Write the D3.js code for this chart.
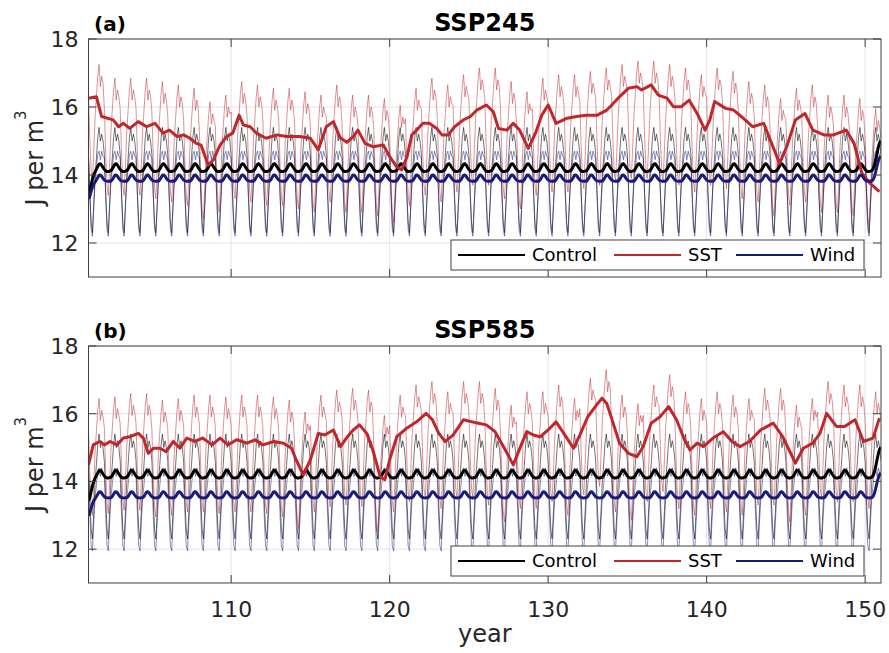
<!DOCTYPE html>
<html>
<head>
<meta charset="utf-8">
<script src="https://cdn.jsdelivr.net/npm/d3@7/dist/d3.min.js"></script>
<style>
    body { margin: 0; background: #fff; }
    svg { display: block; font-family: 'DejaVu Sans', sans-serif; }
</style>
</head>
<body>
<div id="chart"></div>
<script>
'use strict';

// seasonal cycle (one value per month, starting at the year mark)
var controlClim = [14.6, 13.5, 12.6, 12.3, 13.1, 14.0, 14.5, 15.1, 15.4, 15.0, 15.2, 15.0];
var windClimA = [14.5, 13.4, 12.4, 12.2, 13.1, 13.8, 14.2, 14.6, 14.7, 14.45, 14.7, 14.55];
var windClimB = [14.15, 13.05, 12.1, 11.95, 12.8, 13.5, 13.9, 14.3, 14.4, 14.15, 14.4, 14.25];
var sstAnom = [0.45, -0.85, -1.8, -2.1, -1.2, -0.2, 0.4, 1.0, 1.35, 0.7, 1.0, 0.8];

// yearly level of the thin SST run, years 101..150
var sstLevelA = [15.9, 15.5, 15.5, 15.5, 15.4, 15.3, 15.2, 14.8, 15.0, 15.4,
    15.3, 15.2, 15.2, 15.1, 15.0, 15.3, 15.0, 15.0, 14.9, 14.7,
    15.2, 15.5, 15.3, 15.6, 15.8, 15.8, 15.4, 15.1, 15.5, 15.6,
    15.6, 15.7, 15.8, 15.9, 16.0, 16.0, 15.9, 15.8, 15.6, 15.8,
    15.7, 15.4, 15.3, 14.9, 15.2, 15.3, 15.0, 15.0, 14.9, 14.6];
var sstLevelB = [15.1, 15.15, 15.25, 15.25, 15.05, 15.1, 15.2, 15.2, 15.15, 15.2,
    15.2, 15.15, 15.05, 14.7, 15.2, 15.35, 15.4, 15.35, 14.6, 15.2,
    15.5, 15.6, 15.3, 15.6, 15.6, 15.4, 14.9, 15.3, 15.3, 15.5,
    15.1, 15.7, 15.95, 15.2, 14.95, 15.5, 15.8, 15.3, 15.1, 15.3,
    15.2, 15.1, 15.4, 15.4, 14.9, 15.1, 15.6, 15.5, 15.5, 15.3];

// smoothed SST curve (thick line), year / value
var sstMeanYearsA = [101.0, 101.5, 101.83, 102.56, 102.9, 103.2, 103.6, 104.14, 104.67, 105.2,
    105.7, 106.1, 106.6, 107.0, 107.4, 107.8, 108.1, 108.55, 108.87, 109.3,
    109.7, 110.1, 110.5, 110.77, 111.2, 111.6, 112.2, 112.9, 113.5, 114.3,
    115.0, 115.5, 116.0, 116.45, 116.87, 117.3, 117.7, 118.0, 118.45, 118.97,
    119.6, 120.0, 120.45, 120.76, 121.1, 121.4, 121.7, 122.1, 122.5, 122.97,
    123.3, 123.7, 124.1, 124.65, 125.1, 125.5, 126.1, 126.54, 126.86, 127.4,
    127.8, 128.2, 128.75, 129.2, 129.6, 130.0, 130.5, 131.2, 131.8, 132.4,
    133.1, 133.7, 134.0, 134.5, 135.06, 135.6, 135.9, 136.5, 136.95, 137.5,
    137.9, 138.4, 138.9, 139.4, 139.9, 140.2, 140.5, 141.2, 141.7, 142.3,
    142.9, 143.6, 144.1, 144.6, 145.05, 145.6, 146.2, 146.7, 147.4, 148.0,
    148.8, 149.3, 149.8, 150.3, 150.9];
var sstMeanA = [16.26, 16.3, 15.72, 15.62, 15.42, 15.52, 15.37, 15.57, 15.42, 15.52,
    15.23, 15.32, 15.13, 15.18, 15.08, 14.93, 14.88, 14.29, 14.44, 14.88,
    15.13, 15.23, 15.76, 15.47, 15.42, 15.23, 15.08, 15.18, 15.13, 15.13,
    15.08, 14.74, 15.42, 15.57, 15.1, 14.96, 15.13, 15.32, 14.93, 14.83,
    14.88, 14.54, 14.24, 14.15, 14.54, 15.18, 15.32, 15.52, 15.52, 15.37,
    15.18, 15.18, 15.42, 15.62, 15.72, 15.91, 16.06, 15.86, 15.37, 15.32,
    15.52, 15.32, 14.78, 15.23, 15.76, 16.06, 15.52, 15.67, 15.72, 15.76,
    15.76, 15.91, 16.05, 16.3, 16.55, 16.6, 16.5, 16.65, 16.35, 16.26,
    16.01, 16.01, 16.2, 15.81, 15.32, 15.62, 16.16, 15.96, 15.91, 15.67,
    15.42, 15.52, 14.93, 14.34, 14.83, 15.62, 15.81, 15.32, 15.18, 15.18,
    15.32, 14.93, 14.05, 13.76, 13.51];

var sstMeanYearsB = [101.0, 101.3, 101.7, 102.0, 102.36, 102.8, 103.2, 103.6, 104.15, 104.46,
    104.77, 105.1, 105.5, 105.9, 106.35, 106.77, 107.2, 107.7, 108.2, 108.8,
    109.3, 109.8, 110.35, 111.0, 111.5, 112.0, 112.7, 113.3, 113.8, 114.1,
    114.55, 115.0, 115.5, 115.9, 116.45, 116.9, 117.3, 117.7, 118.1, 118.55,
    118.97, 119.4, 119.7, 120.0, 120.45, 121.1, 121.7, 122.3, 122.7, 123.1,
    123.5, 124.0, 124.65, 125.2, 125.6, 126.1, 126.65, 127.3, 127.8, 128.3,
    128.65, 129.06, 129.5, 130.0, 130.5, 131.06, 131.6, 132.0, 132.5, 133.06,
    133.4, 133.7, 134.0, 134.5, 135.06, 135.6, 136.0, 136.5, 137.06, 137.6,
    138.1, 138.6, 138.95, 139.4, 139.8, 140.4, 141.05, 141.6, 142.1, 142.7,
    143.4, 144.2, 144.8, 145.6, 146.1, 146.7, 147.15, 147.57, 148.2, 148.7,
    149.36, 149.9, 150.5, 150.9];
var sstMeanB = [14.49, 15.08, 15.18, 15.08, 15.18, 15.08, 15.28, 15.32, 15.42, 15.28,
    14.83, 14.98, 14.98, 14.88, 15.18, 14.98, 15.28, 15.18, 15.28, 15.08,
    15.28, 15.08, 15.23, 15.13, 15.23, 15.08, 15.18, 15.13, 14.98, 14.64,
    14.19, 14.64, 15.42, 15.37, 15.52, 15.03, 15.3, 15.52, 15.67, 15.42,
    14.88, 14.14, 14.05, 14.64, 15.32, 15.58, 15.76, 16.01, 15.82, 15.42,
    15.18, 15.37, 15.82, 15.76, 15.72, 15.67, 15.47, 14.93, 14.49, 15.08,
    15.47, 15.37, 15.32, 15.52, 15.76, 15.37, 14.98, 15.37, 15.91, 16.26,
    16.46, 16.3, 15.87, 15.13, 14.83, 14.73, 15.03, 15.72, 15.91, 16.21,
    15.82, 15.23, 14.93, 15.13, 15.03, 15.28, 15.47, 15.18, 15.03, 15.18,
    15.52, 15.72, 15.32, 14.54, 14.98, 15.13, 15.42, 16.01, 15.62, 15.62,
    15.82, 15.18, 15.28, 15.87];

var xTicks = [110, 120, 130, 140, 150];
var yTicks = [12, 14, 16, 18];
var seriesNames = ['Control', 'SST', 'Wind'];
var colors = {Control: '#000000', SST: '#c0272d', Wind: '#1a1a78'};

var width = 889,
    height = 653;

var left = 88.5,
    right = 881;

var panels = [
    {tag: '(a)', title: 'SSP245', top: 39, bottom: 277, wind: windClimA,
        level: sstLevelA, meanYears: sstMeanYearsA, mean: sstMeanA},
    {tag: '(b)', title: 'SSP585', top: 346, bottom: 583, wind: windClimB,
        level: sstLevelB, meanYears: sstMeanYearsB, mean: sstMeanB}
];

// monthly time axis, 101.0 .. 151.0
var months = d3.range(601).map(function(i) { return 101 + i / 12; });

function seasonal(clim) {
    return months.map(function(t, i) { return clim[i % 12]; });
}

function withLevel(level) {
    return months.map(function(t, i) {
        var yr = Math.min(Math.floor(i / 12), level.length - 1);
        return level[yr] + sstAnom[i % 12];
    });
}

// running mean, window shrinks at the ends
function movmean(v, w) {
    var h = Math.floor(w / 2);
    return v.map(function(d, i) {
        return d3.mean(v.slice(Math.max(0, i - h), Math.min(v.length, i + h + 1)));
    });
}

var svg = d3.select('#chart').append('svg')
    .attr('width', width)
    .attr('height', height);

var x = d3.scaleLinear().domain([101, 151]).range([left, right]);

panels.forEach(function(p, pi) {
    var y = d3.scaleLinear().domain([11, 18]).range([p.bottom, p.top]);
    var g = svg.append('g');
    var clipId = 'clip' + pi;

    g.append('clipPath').attr('id', clipId)
        .append('rect')
        .attr('x', left).attr('y', p.top)
        .attr('width', right - left).attr('height', p.bottom - p.top);

    // grid
    g.selectAll('.gx').data(xTicks).enter().append('line')
        .attr('x1', function(d) { return x(d); })
        .attr('x2', function(d) { return x(d); })
        .attr('y1', p.top).attr('y2', p.bottom)
        .attr('stroke', '#e3e3e3').attr('stroke-width', 1);
    g.selectAll('.gy').data(yTicks).enter().append('line')
        .attr('x1', left).attr('x2', right)
        .attr('y1', function(d) { return y(d); })
        .attr('y2', function(d) { return y(d); })
        .attr('stroke', '#e3e3e3').attr('stroke-width', 1);

    var thin = {
        Control: seasonal(controlClim),
        SST: withLevel(p.level),
        Wind: seasonal(p.wind)
    };

    var line = d3.line()
        .x(function(d) { return x(d[0]); })
        .y(function(d) { return y(d[1]); });

    var plot = g.append('g').attr('clip-path', 'url(#' + clipId + ')');

    seriesNames.forEach(function(name) {
        plot.append('path')
            .datum(d3.zip(months, thin[name]))
            .attr('d', line)
            .attr('fill', 'none')
            .attr('stroke', colors[name])
            .attr('stroke-opacity', name === 'Control' ? 0.55 : 0.5)
            .attr('stroke-width', 1);
    });

    var thick = {
        Control: d3.zip(months, movmean(movmean(thin.Control, 11), 3)),
        SST: d3.zip(p.meanYears, p.mean),
        Wind: d3.zip(months, movmean(movmean(thin.Wind, 11), 3))
    };

    seriesNames.forEach(function(name) {
        plot.append('path')
            .datum(thick[name])
            .attr('d', line)
            .attr('fill', 'none')
            .attr('stroke', colors[name])
            .attr('stroke-width', 3)
            .attr('stroke-linejoin', 'round');
    });

    // ticks, inside, mirrored on top and right
    var tl = 8;
    xTicks.forEach(function(t) {
        [[p.bottom, p.bottom - tl], [p.top, p.top + tl]].forEach(function(e) {
            g.append('line')
                .attr('x1', x(t)).attr('x2', x(t))
                .attr('y1', e[0]).attr('y2', e[1])
                .attr('stroke', '#404040');
        });
    });
    yTicks.forEach(function(t) {
        [[left, left + tl], [right, right - tl]].forEach(function(e) {
            g.append('line')
                .attr('x1', e[0]).attr('x2', e[1])
                .attr('y1', y(t)).attr('y2', y(t))
                .attr('stroke', '#404040');
        });
    });

    g.append('rect')
        .attr('x', left).attr('y', p.top)
        .attr('width', right - left).attr('height', p.bottom - p.top)
        .attr('fill', 'none')
        .attr('stroke', '#404040')
        .attr('stroke-width', 1);

    g.selectAll('.ylab').data(yTicks).enter().append('text')
        .attr('x', left - 10)
        .attr('y', function(d) { return y(d); })
        .attr('dy', '0.36em')
        .attr('text-anchor', 'end')
        .attr('font-size', 22)
        .attr('fill', '#262626')
        .text(function(d) { return d; });

    if (pi === panels.length - 1) {
        g.selectAll('.xlab').data(xTicks).enter().append('text')
            .attr('x', function(d) { return x(d); })
            .attr('y', p.bottom + 34)
            .attr('text-anchor', 'middle')
            .attr('font-size', 22)
            .attr('fill', '#262626')
            .text(function(d) { return d; });

        g.append('text')
            .attr('x', (left + right) / 2)
            .attr('y', p.bottom + 59)
            .attr('text-anchor', 'middle')
            .attr('font-size', 24)
            .attr('fill', '#262626')
            .text('year');
    }

    var yl = g.append('text')
        .attr('transform', 'translate(43,' + ((p.top + p.bottom) / 2) + ') rotate(-90)')
        .attr('text-anchor', 'middle')
        .attr('font-size', 24)
        .attr('fill', '#262626');
    yl.append('tspan').text('J per m');
    yl.append('tspan').attr('dy', -17).attr('font-size', 15).text('3');

    g.append('text')
        .attr('x', (left + right) / 2)
        .attr('y', p.top - 8)
        .attr('text-anchor', 'middle')
        .attr('font-size', 24)
        .attr('font-weight', 'bold')
        .text(p.title);

    g.append('text')
        .attr('x', 94)
        .attr('y', p.top - 8)
        .attr('font-size', 20)
        .attr('font-weight', 'bold')
        .text(p.tag);

    // legend
    var lx = 451, lw = 413, lh = 30;
    var ly = p.bottom - 7 - lh;
    var leg = g.append('g');
    leg.append('rect')
        .attr('x', lx).attr('y', ly)
        .attr('width', lw).attr('height', lh)
        .attr('fill', '#fff')
        .attr('stroke', '#404040');
    var entries = [
        {name: 'Control', x0: 458},
        {name: 'SST', x0: 614},
        {name: 'Wind', x0: 736}
    ];
    entries.forEach(function(e) {
        leg.append('line')
            .attr('x1', e.x0).attr('x2', e.x0 + 67)
            .attr('y1', ly + lh / 2).attr('y2', ly + lh / 2)
            .attr('stroke', colors[e.name])
            .attr('stroke-width', 2);
        leg.append('text')
            .attr('x', e.x0 + 74)
            .attr('y', ly + lh / 2)
            .attr('dy', '0.36em')
            .attr('font-size', 18)
            .attr('fill', '#000')
            .text(e.name);
    });
});
</script>
</body>
</html>
